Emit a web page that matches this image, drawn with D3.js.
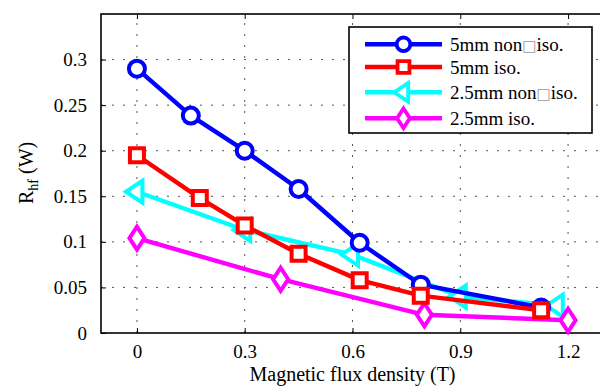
<!DOCTYPE html>
<html>
<head>
<meta charset="utf-8">
<script src="https://cdn.jsdelivr.net/npm/d3@7/dist/d3.min.js"></script>
<style>
  html, body { margin: 0; padding: 0; background: #fff; }
  svg { display: block; }
  text { font-family: "Liberation Serif", "Times New Roman", serif; fill: #000; }
</style>
</head>
<body>
<svg id="chart" width="600" height="390"></svg>
<script>
// Series: high-frequency resistance vs. magnetic flux density
const seriesNames = ["5mm non\u25A1iso.", "5mm iso.", "2.5mm non\u25A1iso.", "2.5mm iso."];
const seriesColors = ["#0000ff", "#ff0000", "#00ffff", "#ff00ff"];
const seriesMarkers = ["circle", "square", "triangle", "diamond"];

const blueX = [0, 0.15, 0.30, 0.45, 0.62, 0.79, 1.125];
const blueY = [0.290, 0.2385, 0.200, 0.158, 0.099, 0.053, 0.028];

const redX = [0, 0.175, 0.30, 0.45, 0.62, 0.79, 1.125];
const redY = [0.195, 0.148, 0.118, 0.087, 0.058, 0.041, 0.025];

const cyanX = [0, 0.30, 0.60, 0.90, 1.17];
const cyanY = [0.155, 0.113, 0.086, 0.040, 0.030];

const magentaX = [0, 0.40, 0.80, 1.20];
const magentaY = [0.104, 0.059, 0.020, 0.014];

const xTicks = [0, 0.3, 0.6, 0.9, 1.2];
const xTickLabels = ["0", "0.3", "0.6", "0.9", "1.2"];
const yTicks = [0, 0.05, 0.1, 0.15, 0.2, 0.25, 0.3];
const yTickLabels = ["0", "0.05", "0.1", "0.15", "0.2", "0.25", "0.3"];

const xTitle = "Magnetic flux density (T)";

const series = [
  { name: seriesNames[0], color: seriesColors[0], marker: seriesMarkers[0], x: blueX, y: blueY },
  { name: seriesNames[1], color: seriesColors[1], marker: seriesMarkers[1], x: redX, y: redY },
  { name: seriesNames[2], color: seriesColors[2], marker: seriesMarkers[2], x: cyanX, y: cyanY },
  { name: seriesNames[3], color: seriesColors[3], marker: seriesMarkers[3], x: magentaX, y: magentaY }
];

const svg = d3.select("#chart");
const plot = { left: 101, top: 14, right: 604, bottom: 333 };

const x = d3.scaleLinear().domain([-0.1, 1.3]).range([plot.left, plot.right]);
const y = d3.scaleLinear().domain([0, 0.35]).range([plot.bottom, plot.top]);

const FONT = 19;
const SERIF = '"Liberation Serif", "Times New Roman", serif';

// dotted grid
const grid = svg.append("g").attr("stroke", "#555").attr("stroke-width", 1)
  .attr("stroke-dasharray", "2,9");
xTicks.forEach(t => {
  grid.append("line").attr("x1", x(t)).attr("x2", x(t))
    .attr("y1", plot.bottom).attr("y2", plot.top);
});
yTicks.filter(t => t > 0).forEach(t => {
  grid.append("line").attr("x1", plot.left).attr("x2", plot.right)
    .attr("y1", y(t)).attr("y2", y(t));
});

// axes with inward ticks
const xAxis = d3.axisBottom(x).tickValues(xTicks).tickSizeInner(-5).tickSizeOuter(0)
  .tickFormat((d, i) => xTickLabels[i]).tickPadding(14);
const yAxis = d3.axisLeft(y).tickValues(yTicks).tickSizeInner(-5).tickSizeOuter(0)
  .tickFormat((d, i) => yTickLabels[i]).tickPadding(14);

const gx = svg.append("g").attr("transform", `translate(0,${plot.bottom})`).call(xAxis);
const gy = svg.append("g").attr("transform", `translate(${plot.left},0)`).call(yAxis);
[gx, gy].forEach(g => {
  g.attr("font-family", SERIF).attr("font-size", FONT);
  g.select(".domain").remove();
  g.selectAll(".tick line").attr("stroke", "#000").attr("stroke-width", 1);
  g.selectAll(".tick text").style("font-size", FONT + "px")
    .style("font-family", SERIF).attr("fill", "#000");
});
gx.selectAll(".tick text").attr("dy", "0.71em").attr("y", 12);

// top ticks
const topAxis = d3.axisTop(x).tickValues(xTicks).tickSizeInner(-5).tickSizeOuter(0).tickFormat("");
const gt = svg.append("g").attr("transform", `translate(0,${plot.top})`).call(topAxis);
gt.select(".domain").remove();
gt.selectAll(".tick line").attr("stroke", "#000");

// frame
svg.append("rect").attr("x", plot.left).attr("y", plot.top)
  .attr("width", plot.right - plot.left).attr("height", plot.bottom - plot.top)
  .attr("fill", "none").attr("stroke", "#000").attr("stroke-width", 1.6);

// marker shapes (path strings centered at 0,0)
function markerPath(type, s) {
  s = s || 1;
  if (type === "square") {
    const h = 7 * s;
    return `M${-h},${-h}H${h}V${h}H${-h}Z`;
  }
  if (type === "triangle") {
    const r = 11 * s;
    return `M${-r},0L${r * 0.5},${-r}L${r * 0.5},${r}Z`;
  }
  if (type === "diamond") {
    const w = 7.5 * s, h = 11.5 * s;
    return `M0,${-h}L${w},0L0,${h}L${-w},0Z`;
  }
  const r = 8 * s;
  return `M${-r},0A${r},${r} 0 1,1 ${r},0A${r},${r} 0 1,1 ${-r},0Z`;
}

const line = d3.line().x(d => x(d[0])).y(d => y(d[1]));
const drawOrder = [2, 3, 0, 1];
const dataLayer = svg.append("g");
drawOrder.forEach(i => {
  const s = series[i];
  const pts = s.x.map((v, k) => [v, s.y[k]]);
  const g = dataLayer.append("g");
  g.append("path").attr("d", line(pts)).attr("fill", "none")
    .attr("stroke", s.color).attr("stroke-width", 4.4).attr("stroke-linejoin", "round");
  g.selectAll("path.m").data(pts).enter().append("path").attr("class", "m")
    .attr("transform", d => `translate(${x(d[0])},${y(d[1])})`)
    .attr("d", markerPath(s.marker))
    .attr("fill", "#fff").attr("stroke", s.color).attr("stroke-width", 4);
});

// axis titles
svg.append("text").attr("x", (plot.left + plot.right) / 2).attr("y", 381)
  .attr("text-anchor", "middle").style("font-size", (FONT + 1) + "px").text(xTitle);

const yl = svg.append("text").attr("transform", "translate(33,204) rotate(-90)")
  .style("font-size", (FONT + 1) + "px");
yl.append("tspan").text("R");
yl.append("tspan").attr("dy", 5).style("font-size", "14px").text("hf");
yl.append("tspan").attr("dy", -5).text(" (W)");

// legend
const legend = { x: 349, y: 27, w: 243, h: 106 };
const rowY = [44.3, 67, 92.3, 118.3];
const lg = svg.append("g");
lg.append("rect").attr("x", legend.x).attr("y", legend.y).attr("width", legend.w)
  .attr("height", legend.h).attr("fill", "#fff").attr("stroke", "#000").attr("stroke-width", 1.6);
series.forEach((s, i) => {
  const cy = rowY[i];
  lg.append("line").attr("x1", 365).attr("x2", 442).attr("y1", cy).attr("y2", cy)
    .attr("stroke", s.color).attr("stroke-width", 4.4);
  lg.append("path").attr("transform", `translate(403.5,${cy})`)
    .attr("d", markerPath(s.marker, 0.85)).attr("fill", "#fff")
    .attr("stroke", s.color).attr("stroke-width", 3.8);
  const t = lg.append("text").attr("x", 450).attr("y", cy + 6.5).style("font-size", FONT + "px");
  const parts = s.name.split("\u25A1");
  t.append("tspan").text(parts[0]);
  if (parts.length > 1) {
    t.append("tspan").attr("fill", "#999").style("font-size", "15px")
      .style("font-family", '"DejaVu Sans", sans-serif').text("\u25A1");
    t.append("tspan").text(parts[1]);
  }
});
</script>
</body>
</html>
